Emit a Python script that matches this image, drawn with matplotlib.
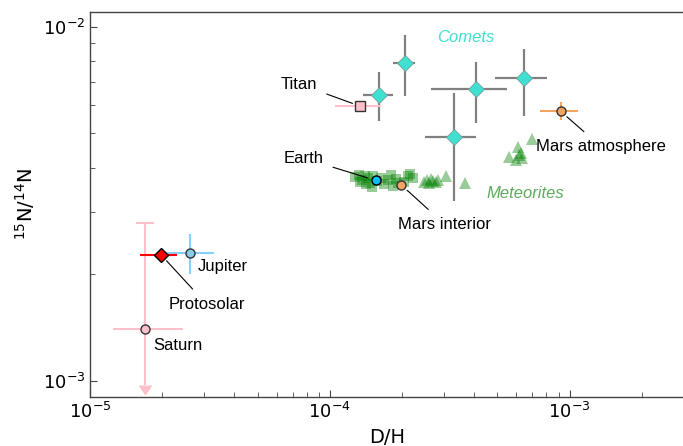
import matplotlib
matplotlib.use("Agg")
import matplotlib.pyplot as plt
from matplotlib.ticker import NullFormatter
from matplotlib.markers import CARETDOWNBASE
import numpy as np

# ---------------- data ----------------
# Comets (D/H, 15N/14N) with ranges
comet_dh = [1.61e-4, 2.05e-4, 4.07e-4, 6.45e-4, 3.29e-4]
comet_dh_lo = [1.37e-4, 1.83e-4, 2.63e-4, 4.90e-4, 2.50e-4]
comet_dh_hi = [1.83e-4, 2.27e-4, 5.50e-4, 8.02e-4, 4.06e-4]
comet_n = [6.43e-3, 7.92e-3, 6.66e-3, 7.14e-3, 4.88e-3]
comet_n_lo = [5.41e-3, 6.37e-3, 5.34e-3, 5.61e-3, 3.21e-3]
comet_n_hi = [7.47e-3, 9.49e-3, 7.97e-3, 8.63e-3, 6.50e-3]

# Meteorites: squares and triangles
met_sq_dh = [1.271e-4, 1.321e-4, 1.359e-4, 1.399e-4, 1.440e-4, 1.468e-4, 1.413e-4,
             1.511e-4, 1.570e-4, 1.632e-4, 1.679e-4, 1.745e-4, 1.795e-4, 1.830e-4,
             1.884e-4, 1.920e-4, 2.034e-4, 2.113e-4, 2.154e-4, 2.217e-4, 1.496e-4,
             1.334e-4]
met_sq_n = [3.755e-3, 3.805e-3, 3.683e-3, 3.780e-3, 3.731e-3, 3.612e-3, 3.589e-3,
            3.780e-3, 3.659e-3, 3.731e-3, 3.589e-3, 3.683e-3, 3.805e-3, 3.543e-3,
            3.707e-3, 3.612e-3, 3.636e-3, 3.780e-3, 3.830e-3, 3.731e-3, 3.520e-3,
            3.636e-3]
met_tri_dh = [2.465e-4, 2.537e-4, 2.586e-4, 2.636e-4, 2.687e-4, 2.766e-4, 2.818e-4,
              3.043e-4, 3.652e-4,
              5.57e-4, 5.96e-4, 6.07e-4, 6.13e-4, 6.25e-4, 6.31e-4, 6.95e-4]
met_tri_n = [3.636e-3, 3.683e-3, 3.612e-3, 3.707e-3, 3.659e-3, 3.636e-3, 3.683e-3,
             3.780e-3, 3.612e-3,
             4.275e-3, 4.194e-3, 4.562e-3, 4.331e-3, 4.388e-3, 4.249e-3, 4.805e-3]

# Single bodies
titan_dh, titan_dh_lo, titan_dh_hi, titan_n = 1.34e-4, 1.05e-4, 1.64e-4, 5.96e-3
earth_dh, earth_n = 1.555e-4, 3.68e-3
mars_int_dh, mars_int_n = 1.98e-4, 3.58e-3
mars_atm_dh, mars_atm_dh_lo, mars_atm_dh_hi = 9.17e-4, 7.55e-4, 1.084e-3
mars_atm_n, mars_atm_n_lo, mars_atm_n_hi = 5.77e-3, 5.44e-3, 6.12e-3
jup_dh, jup_dh_lo, jup_dh_hi = 2.6e-5, 2.02e-5, 3.29e-5
jup_n, jup_n_lo, jup_n_hi = 2.30e-3, 2.00e-3, 2.59e-3
proto_dh, proto_dh_lo, proto_dh_hi, proto_n = 1.976e-5, 1.62e-5, 2.31e-5, 2.27e-3
sat_dh, sat_dh_lo, sat_dh_hi = 1.70e-5, 1.25e-5, 2.45e-5
sat_n, sat_n_hi, sat_n_limit = 1.40e-3, 2.79e-3, 9.74e-4

# ---------------- figure ----------------
fig = plt.figure(figsize=(6.83, 4.46), dpi=100)
ax = fig.add_axes([0.1318, 0.1099, 0.8697, 0.8632])
ax.set_xscale("log")
ax.set_yscale("log")
ax.set_xlim(1e-5, 3e-3)
ax.set_ylim(9e-4, 1.1e-2)

lab_font = dict(family=["Liberation Sans", "DejaVu Sans"], fontsize=12)

# Comets
cdh = np.array(comet_dh); cn = np.array(comet_n)
ax.errorbar(cdh, cn,
            xerr=[cdh - np.array(comet_dh_lo), np.array(comet_dh_hi) - cdh],
            yerr=[cn - np.array(comet_n_lo), np.array(comet_n_hi) - cn],
            fmt="D", color="#808080", ecolor="#808080", elinewidth=1.6,
            markerfacecolor="#40E0D0", markeredgecolor="#7a9f9a", markeredgewidth=0.6,
            markersize=8, zorder=3)

# Meteorites
ax.plot(met_sq_dh, met_sq_n, "s", color="green", alpha=0.4, markersize=7,
        markeredgewidth=0, zorder=2)
ax.plot(met_tri_dh, met_tri_n, "^", color="green", alpha=0.4, markersize=8,
        markeredgewidth=0, zorder=2)

# Titan
ax.errorbar(titan_dh, titan_n, xerr=[[titan_dh - titan_dh_lo], [titan_dh_hi - titan_dh]],
            fmt="s", color="pink", ecolor="pink", elinewidth=1.5,
            markerfacecolor="pink", markeredgecolor="#333333", markeredgewidth=1,
            markersize=7, zorder=4)

# Earth
ax.plot(earth_dh, earth_n, "o", markerfacecolor="#00BFFF", markeredgecolor="black",
        markeredgewidth=1, markersize=6.5, zorder=5)

# Mars interior
ax.plot(mars_int_dh, mars_int_n, "o", markerfacecolor="#F4A460", markeredgecolor="#333333",
        markeredgewidth=1, markersize=6.5, zorder=5)

# Mars atmosphere
ax.errorbar(mars_atm_dh, mars_atm_n,
            xerr=[[mars_atm_dh - mars_atm_dh_lo], [mars_atm_dh_hi - mars_atm_dh]],
            yerr=[[mars_atm_n - mars_atm_n_lo], [mars_atm_n_hi - mars_atm_n]],
            fmt="o", ecolor="#F4A460", elinewidth=1.5,
            markerfacecolor="#F4A460", markeredgecolor="#333333", markeredgewidth=1,
            markersize=6.5, zorder=5)

# Jupiter
ax.errorbar(jup_dh, jup_n,
            xerr=[[jup_dh - jup_dh_lo], [jup_dh_hi - jup_dh]],
            yerr=[[jup_n - jup_n_lo], [jup_n_hi - jup_n]],
            fmt="o", ecolor="#87CEFA", elinewidth=1.5,
            markerfacecolor="#87CEEB", markeredgecolor="#333333", markeredgewidth=1,
            markersize=6.5, zorder=4)

# Protosolar
ax.errorbar(proto_dh, proto_n,
            xerr=[[proto_dh - proto_dh_lo], [proto_dh_hi - proto_dh]],
            fmt="D", ecolor="red", elinewidth=1.5,
            markerfacecolor="red", markeredgecolor="black", markeredgewidth=1,
            markersize=7, zorder=5)

# Saturn: horizontal bar, upper bar with cap, lower bar ending in an arrow
ax.errorbar(sat_dh, sat_n, xerr=[[sat_dh - sat_dh_lo], [sat_dh_hi - sat_dh]],
            yerr=[[sat_n - sat_n_limit], [0]],
            fmt="none", ecolor="pink", elinewidth=1.5, zorder=3)
ax.errorbar(sat_dh, sat_n, yerr=[[0], [sat_n_hi - sat_n]], fmt="none", ecolor="pink",
            elinewidth=1.5, capsize=6.5, capthick=1.5, zorder=3)
ax.plot(sat_dh, sat_n_limit, linestyle="none", marker=CARETDOWNBASE, color="pink",
        markersize=9, zorder=3)
ax.plot(sat_dh, sat_n, "o", markerfacecolor="pink", markeredgecolor="#333333",
        markeredgewidth=1, markersize=6.5, zorder=5)

# Annotations
line_props = dict(arrowstyle="-", color="black", lw=0.8, shrinkA=5, shrinkB=6)
ax.annotate("Titan", xy=(titan_dh, titan_n), xytext=(-44, 16), textcoords="offset points",
            ha="center", va="center", arrowprops=line_props, **lab_font)
ax.annotate("Earth", xy=(earth_dh, earth_n), xytext=(-52, 16), textcoords="offset points",
            ha="center", va="center", arrowprops=line_props, **lab_font)
ax.annotate("Mars interior", xy=(mars_int_dh, mars_int_n), xytext=(31.5, -28.6),
            textcoords="offset points", ha="center", va="center",
            arrowprops=line_props, **lab_font)
ax.annotate("Mars atmosphere", xy=(mars_atm_dh, mars_atm_n), xytext=(29, -25.4),
            textcoords="offset points", ha="center", va="center",
            arrowprops=line_props, **lab_font)
ax.annotate("Protosolar", xy=(proto_dh, proto_n), xytext=(33, -35.8),
            textcoords="offset points", ha="center", va="center",
            arrowprops=line_props, **lab_font)
ax.annotate("Jupiter", xy=(jup_dh, jup_n), xytext=(6, -10.3), textcoords="offset points",
            ha="left", va="center", **lab_font)
ax.annotate("Saturn", xy=(sat_dh, sat_n), xytext=(5.5, -12.2), textcoords="offset points",
            ha="left", va="center", **lab_font)

ax.text(3.69e-4, 9.31e-3, "Comets", color="#40E0D0", style="italic",
        ha="center", va="center", **lab_font)
ax.text(6.56e-4, 3.385e-3, "Meteorites", color="#5cac5c", style="italic",
        ha="center", va="center", **lab_font)

# Axes styling
ax.set_xlabel("D/H", fontsize=14)
ax.set_ylabel(r"$^{15}$N/$^{14}$N", fontsize=14)
ax.yaxis.set_minor_formatter(NullFormatter())
ax.xaxis.set_minor_formatter(NullFormatter())
ax.tick_params(which="both", direction="in", colors="#444444", labelcolor="black",
               labelsize=13)
ax.tick_params(which="major", length=5, width=0.8)
ax.tick_params(which="minor", length=3.5, width=0.6)
for s in ax.spines.values():
    s.set_color("#444444")
    s.set_linewidth(1)
ax.spines["right"].set_visible(False)

fig.savefig("out.png", dpi=100)
